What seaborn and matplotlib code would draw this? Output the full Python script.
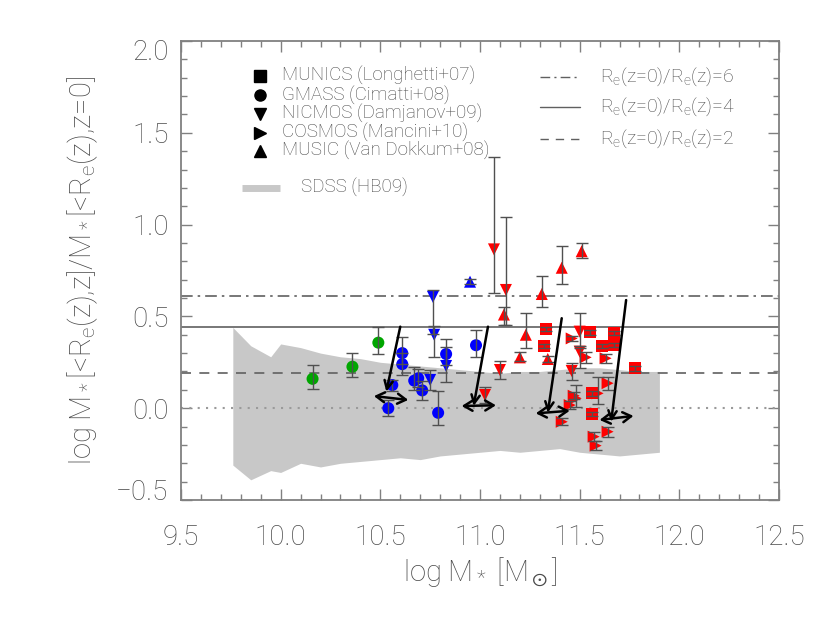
import numpy as np
import pandas as pd
import seaborn as sns
import matplotlib
matplotlib.use("Agg")
import matplotlib.pyplot as plt
from matplotlib.ticker import MultipleLocator
from matplotlib.transforms import ScaledTranslation

# ---------------- data ----------------
# SDSS (HB09) band
sdss_x = [9.76, 9.85, 9.95, 10.0, 10.1, 10.2, 10.3, 10.4, 10.5, 10.6, 10.7, 10.8,
          10.9, 11.0, 11.1, 11.2, 11.3, 11.4, 11.5, 11.6, 11.7, 11.8, 11.9]
sdss_hi = [0.44, 0.34, 0.28, 0.35, 0.33, 0.30, 0.28, 0.27, 0.25, 0.24, 0.23, 0.22,
           0.21, 0.20, 0.19, 0.20, 0.20, 0.21, 0.22, 0.22, 0.21, 0.20, 0.20]
sdss_lo = [-0.31, -0.39, -0.34, -0.35, -0.30, -0.32, -0.30, -0.29, -0.28, -0.27, -0.28, -0.26,
           -0.25, -0.24, -0.23, -0.24, -0.23, -0.22, -0.24, -0.25, -0.26, -0.25, -0.24]

# reference lines Re(z=0)/Re(z) = 6, 4, 2
ratio_labels = ["6", "4", "2"]
ratio_levels = [0.611, 0.442, 0.192]

# points: survey, redshift bin, x, y, err_low, err_high
munics_x = [11.33, 11.32, 11.55, 11.61, 11.67, 11.67, 11.78, 11.56, 11.56]
munics_y = [0.43, 0.34, 0.413, 0.34, 0.344, 0.411, 0.217, 0.081, -0.033]
munics_el = [0.012] * 9
munics_eh = [0.012] * 9
munics_z = ["high"] * 9

gmass_x = [10.16, 10.36, 10.49, 10.61, 10.61, 10.56, 10.54, 10.67, 10.69, 10.71, 10.79, 10.83, 10.98]
gmass_y = [0.16, 0.226, 0.357, 0.30, 0.24, 0.126, 0.0, 0.15, 0.163, 0.097, -0.025, 0.295, 0.343]
gmass_el = [0.055, 0.058, 0.063, 0.06, 0.06, 0.03, 0.045, 0.051, 0.05, 0.052, 0.065, 0.06, 0.063]
gmass_eh = [0.075, 0.074, 0.087, 0.086, 0.06, 0.03, 0.045, 0.076, 0.05, 0.053, 0.12, 0.08, 0.083]
gmass_z = ["low", "low", "low"] + ["mid"] * 10

nicmos_x = [10.764, 10.77, 10.83, 10.75, 11.07, 11.13, 11.10, 11.025, 11.50, 11.50, 11.46]
nicmos_y = [0.606, 0.40, 0.23, 0.154, 0.865, 0.644, 0.208, 0.072, 0.417, 0.308, 0.203]
nicmos_el = [0.20, 0.12, 0.086, 0.055, 0.235, 0.19, 0.05, 0.045, 0.08, 0.09, 0.05]
nicmos_eh = [0.04, 0.05, 0.105, 0.054, 0.505, 0.40, 0.05, 0.045, 0.10, 0.02, 0.043]
nicmos_z = ["mid"] * 4 + ["high"] * 7

cosmos_x = [11.46, 11.53, 11.63, 11.64, 11.59, 11.48, 11.47, 11.45, 11.41, 11.64, 11.57, 11.58]
cosmos_y = [0.38, 0.277, 0.272, 0.136, 0.081, 0.054, 0.068, 0.017, -0.074, -0.128, -0.155, -0.204]
cosmos_el = [0.015, 0.03, 0.025, 0.037, 0.058, 0.046, 0.02, 0.02, 0.02, 0.027, 0.025, 0.025]
cosmos_eh = [0.015, 0.03, 0.025, 0.035, 0.09, 0.072, 0.02, 0.02, 0.02, 0.027, 0.025, 0.025]
cosmos_z = ["high"] * 12

music_x = [10.95, 11.31, 11.41, 11.51, 11.12, 11.23, 11.20, 11.34]
music_y = [0.689, 0.622, 0.765, 0.855, 0.51, 0.40, 0.277, 0.268]
music_el = [0.012, 0.07, 0.089, 0.035, 0.057, 0.074, 0.02, 0.015]
music_eh = [0.012, 0.10, 0.118, 0.043, 0.043, 0.117, 0.03, 0.015]
music_z = ["mid"] + ["high"] * 7

# evolutionary arrows: start (x0,y0) -> end (x1,y1), double arrow from (xl,yl) to (xr,yr)
arr_x0 = [10.60, 11.04, 11.41, 11.733]
arr_y0 = [0.444, 0.444, 0.49, 0.589]
arr_x1 = [10.53, 10.968, 11.34, 11.658]
arr_y1 = [0.09, 0.012, -0.025, -0.074]
arr_xl = [10.468, 10.908, 11.28, 11.60]
arr_yl = [0.066, 0.012, -0.028, -0.064]
arr_xr = [10.64, 11.08, 11.45, 11.77]
arr_yr = [0.045, 0.016, -0.014, -0.042]

surveys = ["MUNICS (Longhetti+07)", "GMASS (Cimatti+08)", "NICMOS (Damjanov+09)",
           "COSMOS (Mancini+10)", "MUSIC (Van Dokkum+08)"]

x_ticks = [9.5, 10.0, 10.5, 11.0, 11.5, 12.0, 12.5]
y_ticks = [-0.5, 0.0, 0.5, 1.0, 1.5, 2.0]

# ---------------- build table ----------------
rows = []
for name, xs, ys, el, eh, zz in [
    (surveys[0], munics_x, munics_y, munics_el, munics_eh, munics_z),
    (surveys[1], gmass_x, gmass_y, gmass_el, gmass_eh, gmass_z),
    (surveys[2], nicmos_x, nicmos_y, nicmos_el, nicmos_eh, nicmos_z),
    (surveys[3], cosmos_x, cosmos_y, cosmos_el, cosmos_eh, cosmos_z),
    (surveys[4], music_x, music_y, music_el, music_eh, music_z)]:
    for a, b, c, d, e in zip(xs, ys, el, eh, zz):
        rows.append(dict(survey=name, x=a, y=b, el=c, eh=d, zbin=e))
df = pd.DataFrame(rows)

markers = {surveys[0]: "s", surveys[1]: "o", surveys[2]: "v", surveys[3]: ">", surveys[4]: "^"}
palette = {"low": "#00a600", "mid": "#0000ff", "high": "#ff0000"}

# ---------------- style ----------------
sns.set_theme(style="white")
plt.rcParams["font.family"] = ["Roboto", "DejaVu Sans"]
plt.rcParams["font.weight"] = "light"
plt.rcParams["axes.labelweight"] = "light"
plt.rcParams["mathtext.fontset"] = "custom"
plt.rcParams["mathtext.rm"] = "Roboto:light"
plt.rcParams["mathtext.it"] = "Roboto:light"
plt.rcParams["mathtext.sf"] = "Roboto:light"
plt.rcParams["mathtext.bf"] = "Roboto"
plt.rcParams["mathtext.default"] = "rm"
plt.rcParams["mathtext.fallback"] = "stixsans"
TXT = "#4a4a4a"
GR = "#808080"

fig = plt.figure(figsize=(8.30, 6.24), dpi=100)
ax = fig.add_axes([181 / 830, 1 - 500 / 624, 598 / 830, 459 / 624])

ax.set_xlim(9.5, 12.5)
ax.set_ylim(-0.5, 2.0)

# SDSS band
ax.fill_between(sdss_x, sdss_lo, sdss_hi, color="#c8c8c8", lw=0, zorder=1)

# horizontal reference lines
styles = [(0, (7, 3, 1.5, 3)), "-", (0, (6, 5))]
for lev, ls in zip(ratio_levels, styles):
    ax.axhline(lev, color="#606060", lw=1.2, ls=ls, zorder=2)
ax.axhline(0.0, color="#9a9a9a", lw=1.5, ls=(0, (1, 3)), zorder=2)

# points
sns.scatterplot(data=df, x="x", y="y", hue="zbin", palette=palette, style="survey",
                markers=markers, s=75, linewidth=0, legend=False, ax=ax, zorder=4)

# error bars
ax.errorbar(df["x"], df["y"], yerr=[df["el"], df["eh"]], fmt="none", ecolor="#505050",
            elinewidth=1.0, capsize=4, capthick=1.0, zorder=5)

# arrows
for x0, y0, x1, y1, xl, yl, xr, yr in zip(arr_x0, arr_y0, arr_x1, arr_y1,
                                          arr_xl, arr_yl, arr_xr, arr_yr):
    ax.annotate("", xy=(x1, y1), xytext=(x0, y0),
                arrowprops=dict(arrowstyle="->,head_length=0.5,head_width=0.25", color="black",
                                lw=1.8, shrinkA=0, shrinkB=0), zorder=6)
    ax.annotate("", xy=(xr, yr), xytext=(xl, yl),
                arrowprops=dict(arrowstyle="<->,head_length=0.5,head_width=0.3", color="black",
                                lw=1.8, shrinkA=0, shrinkB=0), zorder=6)

# ---------------- axes styling ----------------
ax.set_xticks(x_ticks)
ax.set_yticks(y_ticks)
ax.set_xticklabels([f"{v:.1f}" for v in x_ticks])
ax.set_yticklabels([f"{v:.1f}".replace("-", "\u2212") for v in y_ticks])
ax.xaxis.set_minor_locator(MultipleLocator(0.1))
ax.yaxis.set_minor_locator(MultipleLocator(0.1))
ax.tick_params(which="both", direction="in", top=True, right=True, bottom=True, left=True,
               color=GR, width=1.0)
ax.tick_params(which="major", length=8)
ax.tick_params(which="minor", length=4)
ax.tick_params(axis="x", which="major", pad=17, labelsize=20, labelcolor=TXT)
ax.tick_params(axis="y", which="major", pad=9, labelsize=20, labelcolor=TXT)
ylabs = ax.get_yticklabels()
ylabs[0].set_transform(ylabs[0].get_transform() + ScaledTranslation(0, 0.10, fig.dpi_scale_trans))
ylabs[-1].set_transform(ylabs[-1].get_transform() + ScaledTranslation(0, -0.08, fig.dpi_scale_trans))
for sp in ax.spines.values():
    sp.set_color(GR)
    sp.set_linewidth(1.3)

ax.set_xlabel(r"log M$_*$ [M$_\odot$]", fontsize=21, color=TXT, labelpad=3,
              fontweight="light")
ax.set_ylabel(r"log M$_*$[<R$_e$(z),z]/M$_*$[<R$_e$(z),z=0]", fontsize=21, color=TXT,
              labelpad=12, fontweight="light")

# ---------------- legends ----------------
leg_y = [0.924, 0.882, 0.841, 0.800, 0.761]
for name, yy in zip(surveys, leg_y):
    ax.plot([0.132], [yy], marker=markers[name], color="black", ms=8, ls="none",
            transform=ax.transAxes, clip_on=False)
    ax.text(0.169, yy, name, transform=ax.transAxes, fontsize=13.5, color=TXT, va="center")
ax.plot([0.1015, 0.1656], [0.680, 0.680], color="#c8c8c8", lw=5, transform=ax.transAxes,
        solid_capstyle="butt")
ax.text(0.2007, 0.680, "SDSS (HB09)", transform=ax.transAxes, fontsize=13.5, color=TXT,
        va="center")

r_y = [0.922, 0.857, 0.786]
for lab, ls, yy in zip(ratio_labels, styles, r_y):
    ax.plot([0.600, 0.667], [yy, yy], color="#606060", lw=1.0, ls=ls, transform=ax.transAxes)
    ax.text(0.7007, yy, r"R$_e$(z=0)/R$_e$(z)=" + lab, transform=ax.transAxes, fontsize=14,
            color=TXT, va="center")

fig.savefig("out.png", dpi=100)
